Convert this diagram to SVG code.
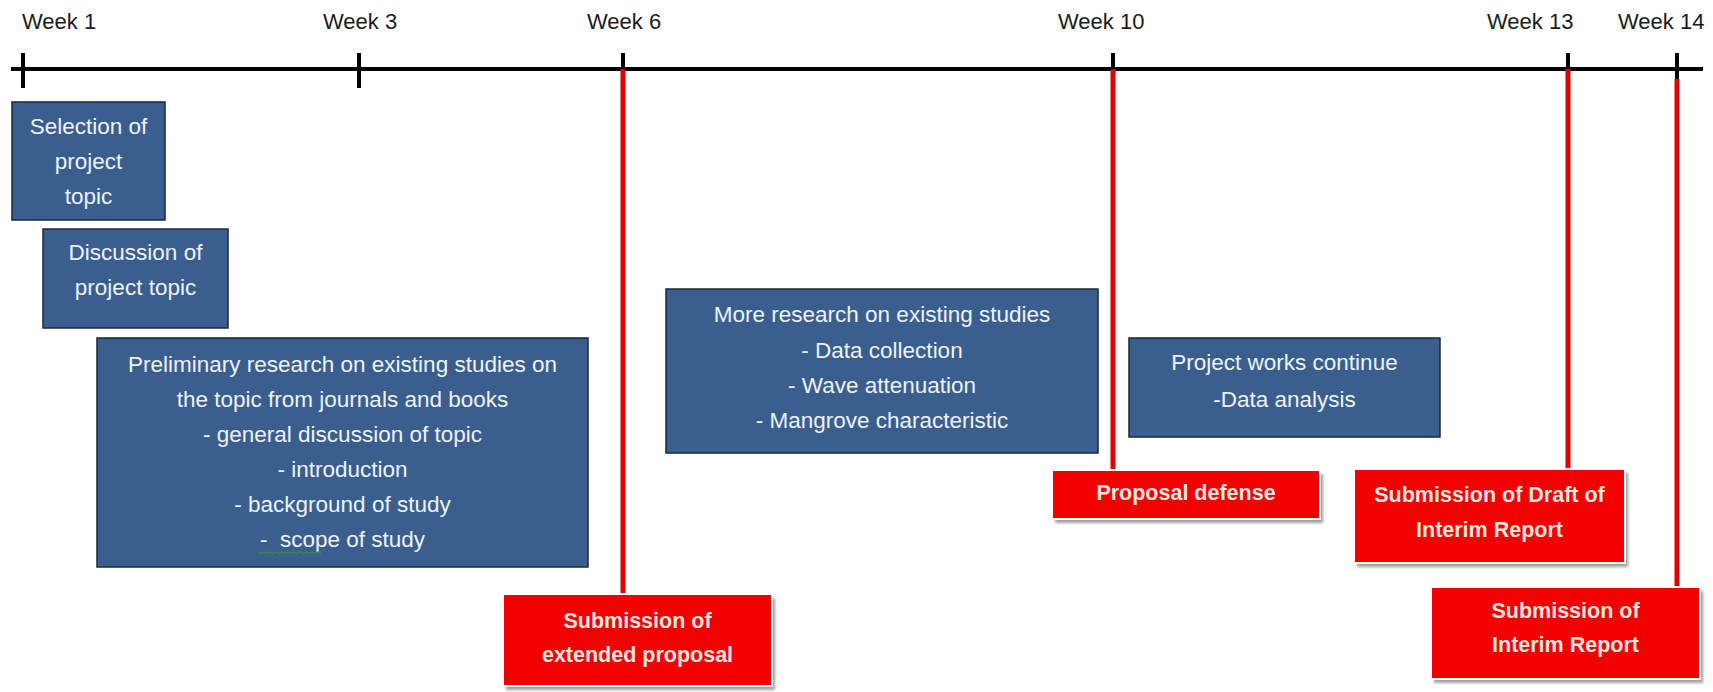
<svg xmlns="http://www.w3.org/2000/svg" width="1713" height="692" viewBox="0 0 1713 692">
  <defs>
    <style>
      .axis { stroke: #000; stroke-width: 4; fill: none; }
      .tick { stroke: #000; stroke-width: 4; }
      .deadline { stroke: #E00000; stroke-width: 5; fill: none; }
      .wk { font-family: "Liberation Sans", Arial, sans-serif; font-size: 22px; fill: #1c1c1c; }
      .task rect { fill: #3A5F8F; stroke: #1B283A; stroke-width: 1.5; }
      .task text { font-family: "Liberation Sans", Arial, sans-serif; font-size: 22.5px; fill: #EEF2F8; text-anchor: middle; }
      .ms .shadow { fill: #9E9E9E; filter: url(#soft); }
      .ms .box { fill: #F20000; stroke: #FFFFFF; stroke-width: 2; }
      .ms text { font-family: "Liberation Sans", Arial, sans-serif; font-weight: bold; font-size: 21.5px; fill: #FDE6DF; text-anchor: middle; }
      .squiggle { fill: none; stroke: #3E8E45; stroke-width: 1.2; }
    </style>
    <filter id="soft" x="-10%" y="-10%" width="120%" height="130%">
      <feGaussianBlur stdDeviation="1.5"/>
    </filter>
  </defs>

  <rect width="1713" height="692" fill="#FFFFFF"/>

  <!-- time axis with week ticks -->
  <g id="axis">
    <line class="axis" x1="11" y1="69" x2="1703" y2="69"/>
    <line class="tick" x1="23" y1="53" x2="23" y2="88"/>
    <line class="tick" x1="359" y1="53" x2="359" y2="88"/>
    <line class="tick" x1="623" y1="53" x2="623" y2="69"/>
    <line class="tick" x1="1113" y1="53" x2="1113" y2="69"/>
    <line class="tick" x1="1568" y1="53" x2="1568" y2="69"/>
    <line class="tick" x1="1677" y1="53" x2="1677" y2="79"/>
    <text class="wk" x="22" y="29">Week 1</text>
    <text class="wk" x="323" y="29">Week 3</text>
    <text class="wk" x="587" y="29">Week 6</text>
    <text class="wk" x="1058" y="29">Week 10</text>
    <text class="wk" x="1487" y="29">Week 13</text>
    <text class="wk" x="1618" y="29">Week 14</text>
  </g>

  <!-- deadline drop lines from the axis to each milestone -->
  <g id="connectors">
    <line class="deadline" x1="623" y1="69" x2="623" y2="595"/>
    <line class="deadline" x1="1113" y1="69" x2="1113" y2="471"/>
    <line class="deadline" x1="1568" y1="69" x2="1568" y2="470"/>
    <line class="deadline" x1="1677" y1="79" x2="1677" y2="588"/>
  </g>

  <!-- activities -->
  <g id="task-selection" class="task">
    <rect x="12" y="102" width="153" height="118"/>
    <text x="88.5" y="134">Selection of</text>
    <text x="88.5" y="169">project</text>
    <text x="88.5" y="204">topic</text>
  </g>

  <g id="task-discussion" class="task">
    <rect x="43" y="229" width="185" height="99"/>
    <text x="135.5" y="260">Discussion of</text>
    <text x="135.5" y="295">project topic</text>
  </g>

  <g id="task-preliminary" class="task">
    <rect x="97" y="338" width="491" height="229"/>
    <text x="342.5" y="372">Preliminary research on existing studies on</text>
    <text x="342.5" y="407">the topic from journals and books</text>
    <text x="342.5" y="442">- general discussion of topic</text>
    <text x="342.5" y="477">- introduction</text>
    <text x="342.5" y="512">- background of study</text>
    <text x="342.5" y="547">-&#160; scope of study</text>
    <path class="squiggle" d="M258 552 l3 1.5 l3 -1.5 l3 1.5 l3 -1.5 l3 1.5 l3 -1.5 l3 1.5 l3 -1.5 l3 1.5 l3 -1.5 l3 1.5 l3 -1.5 l3 1.5 l3 -1.5 l3 1.5 l3 -1.5 l3 1.5 l3 -1.5 l3 1.5 l3 -1.5 l3 1.5"/>
  </g>

  <g id="task-more-research" class="task">
    <rect x="666" y="289" width="432" height="164"/>
    <text x="882" y="322">More research on existing studies</text>
    <text x="882" y="358">- Data collection</text>
    <text x="882" y="393">- Wave attenuation</text>
    <text x="882" y="428">- Mangrove characteristic</text>
  </g>

  <g id="task-project-works" class="task">
    <rect x="1129" y="338" width="311" height="99"/>
    <text x="1284.5" y="370">Project works continue</text>
    <text x="1284.5" y="407">-Data analysis</text>
  </g>

  <!-- milestones -->
  <g id="ms-extended-proposal" class="ms">
    <rect class="shadow" x="506" y="598" width="269" height="92"/>
    <rect class="box" x="503" y="594" width="269" height="92"/>
    <text x="637.5" y="628">Submission of</text>
    <text x="637.5" y="662">extended proposal</text>
  </g>

  <g id="ms-proposal-defense" class="ms">
    <rect class="shadow" x="1055" y="474" width="268" height="49"/>
    <rect class="box" x="1052" y="470" width="268" height="49"/>
    <text x="1186" y="500">Proposal defense</text>
  </g>

  <g id="ms-draft-interim" class="ms">
    <rect class="shadow" x="1357" y="473" width="271" height="94"/>
    <rect class="box" x="1354" y="469" width="271" height="94"/>
    <text x="1489.5" y="502">Submission of Draft of</text>
    <text x="1489.5" y="537">Interim Report</text>
  </g>

  <g id="ms-interim" class="ms">
    <rect class="shadow" x="1434" y="591" width="269" height="92"/>
    <rect class="box" x="1431" y="587" width="269" height="92"/>
    <text x="1565.5" y="618">Submission of</text>
    <text x="1565.5" y="652">Interim Report</text>
  </g>
</svg>
